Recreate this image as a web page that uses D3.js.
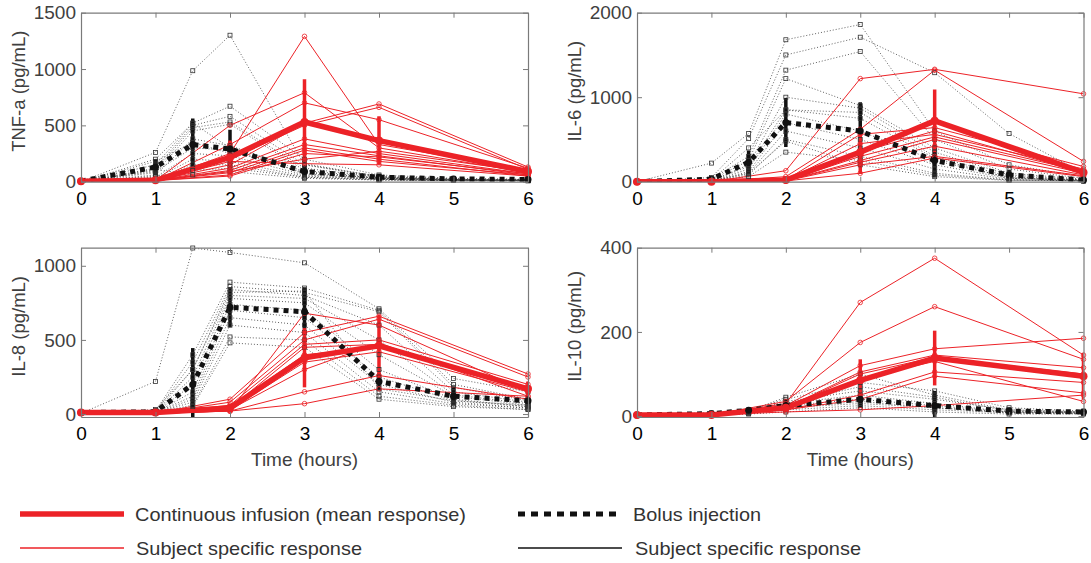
<!DOCTYPE html>
<html>
<head>
<meta charset="utf-8">
<script src="https://cdn.jsdelivr.net/npm/d3@7"></script>
<style>
    body { margin: 0; background: #fff; }
    svg { font-family: "Liberation Sans", Arial, Helvetica, sans-serif; }
</style>
</head>
<body>
<div id="chart"></div>
<script>
// time points (hours)
const timesInfusion = [0, 1, 2, 3, 4, 6];
const timesBolus = [0, 1, 1.5, 2, 3, 4, 5, 6];
const xTicks = [0, 1, 2, 3, 4, 5, 6];

// TNF-a
const tnfInfMean = [5, 12, 215, 530, 365, 90];
const tnfInfSd = [0, 0, 150, 380, 215, 35];
const tnfBolMean = [5, 130, 330, 290, 90, 40, 25, 20];
const tnfBolSd = [0, 70, 230, 170, 55, 25, 10, 10];
const tnfInfSubjects = [
    [0, 10, 250, 1290, 330, 100],
    [0, 10, 500, 790, 300, 80],
    [0, 10, 330, 700, 550, 120],
    [0, 10, 150, 520, 690, 130],
    [0, 10, 200, 500, 660, 110],
    [0, 10, 120, 380, 250, 70],
    [0, 10, 100, 330, 230, 60],
    [0, 10, 80, 300, 200, 50],
    [0, 10, 60, 280, 180, 60],
    [0, 10, 50, 250, 220, 70],
    [0, 10, 180, 160, 150, 50],
    [0, 10, 90, 200, 270, 90]
];
const tnfBolSubjects = [
    [0, 260, 985, 1300, 150, 40, 20, 15],
    [0, 150, 520, 670, 200, 60, 30, 20],
    [0, 120, 500, 580, 150, 50, 25, 20],
    [0, 100, 480, 530, 120, 40, 20, 15],
    [0, 80, 450, 510, 100, 35, 20, 15],
    [0, 60, 380, 320, 90, 30, 20, 15],
    [0, 90, 300, 280, 80, 30, 15, 12],
    [0, 40, 250, 230, 60, 25, 15, 10],
    [0, 30, 200, 180, 50, 20, 12, 10],
    [0, 20, 150, 150, 40, 20, 10, 10],
    [0, 50, 100, 120, 40, 15, 10, 8],
    [0, 200, 520, 300, 70, 30, 15, 10],
    [0, 110, 60, 90, 30, 15, 10, 8],
    [0, 180, 350, 250, 160, 45, 20, 15]
];

// IL-6
const il6InfMean = [0, 0, 20, 350, 720, 110];
const il6InfSd = [0, 0, 20, 260, 370, 60];
const il6BolMean = [0, 30, 230, 700, 600, 250, 80, 20];
const il6BolSd = [0, 20, 140, 290, 340, 200, 60, 15];
const il6InfSubjects = [
    [0, 0, 130, 1220, 1330, 1040],
    [0, 0, 60, 620, 1320, 240],
    [0, 0, 20, 560, 640, 180],
    [0, 0, 20, 450, 560, 150],
    [0, 0, 10, 300, 530, 120],
    [0, 0, 10, 250, 500, 100],
    [0, 0, 10, 230, 420, 80],
    [0, 0, 10, 200, 300, 70],
    [0, 0, 10, 100, 280, 60],
    [0, 0, 20, 350, 600, 110]
];
const il6BolSubjects = [
    [0, 220, 570, 1680, 1860, 600, 200, 60],
    [0, 50, 510, 1500, 1710, 1290, 570, 100],
    [0, 30, 300, 1320, 1540, 500, 150, 40],
    [0, 20, 250, 1220, 900, 400, 100, 30],
    [0, 10, 200, 1000, 870, 350, 80, 20],
    [0, 10, 180, 850, 820, 300, 60, 20],
    [0, 5, 150, 800, 600, 250, 50, 15],
    [0, 5, 120, 700, 500, 200, 40, 15],
    [0, 5, 100, 600, 400, 150, 30, 10],
    [0, 5, 80, 500, 300, 100, 20, 10],
    [0, 5, 60, 350, 250, 80, 20, 10],
    [0, 10, 100, 480, 200, 60, 15, 10],
    [0, 20, 400, 850, 750, 280, 40, 20]
];

// IL-8
const il8InfMean = [10, 10, 40, 380, 460, 170];
const il8InfSd = [0, 0, 30, 200, 210, 50];
const il8BolMean = [10, 15, 200, 720, 690, 220, 120, 90];
const il8BolSd = [0, 10, 245, 135, 165, 60, 60, 40];
const il8InfSubjects = [
    [5, 5, 20, 680, 600, 150],
    [5, 5, 100, 550, 660, 270],
    [5, 5, 80, 500, 640, 250],
    [5, 5, 60, 470, 500, 200],
    [5, 5, 40, 450, 470, 180],
    [5, 5, 50, 400, 450, 170],
    [5, 5, 30, 350, 420, 150],
    [5, 5, 30, 300, 480, 120],
    [5, 5, 20, 150, 260, 100],
    [5, 5, 20, 70, 170, 120]
];
const il8BolSubjects = [
    [5, 220, 1120, 1090, 1020, 710, 240, 150],
    [5, 20, 400, 890, 850, 700, 200, 100],
    [5, 15, 350, 860, 820, 690, 180, 90],
    [5, 10, 300, 840, 800, 600, 150, 80],
    [5, 10, 250, 800, 780, 500, 130, 70],
    [5, 10, 200, 780, 750, 400, 120, 60],
    [5, 10, 150, 740, 700, 300, 100, 50],
    [5, 10, 120, 700, 650, 250, 90, 50],
    [5, 10, 100, 650, 600, 200, 80, 40],
    [5, 10, 80, 600, 550, 150, 70, 40],
    [5, 10, 60, 520, 500, 120, 60, 30],
    [5, 10, 50, 480, 450, 100, 50, 30],
    [5, 30, 300, 820, 830, 170, 90, 60]
];

// IL-10
const il10InfMean = [3, 3, 20, 85, 138, 95];
const il10InfSd = [0, 0, 10, 50, 65, 55];
const il10BolMean = [3, 6, 14, 25, 40, 25, 12, 10];
const il10BolSd = [0, 3, 5, 15, 20, 35, 6, 5];
const il10InfSubjects = [
    [3, 3, 30, 270, 375, 145],
    [3, 3, 35, 175, 260, 135],
    [3, 3, 25, 120, 160, 185],
    [3, 3, 20, 105, 145, 115],
    [3, 3, 20, 100, 140, 100],
    [3, 3, 15, 50, 105, 80],
    [3, 3, 15, 40, 95, 55],
    [3, 3, 10, 15, 25, 50],
    [3, 3, 20, 90, 130, 35]
];
const il10BolSubjects = [
    [3, 5, 12, 45, 100, 50, 15, 10],
    [3, 8, 15, 40, 80, 60, 20, 12],
    [3, 5, 10, 35, 60, 40, 15, 10],
    [3, 4, 10, 30, 50, 30, 10, 8],
    [3, 4, 8, 25, 40, 25, 10, 8],
    [3, 4, 8, 20, 30, 20, 8, 6],
    [3, 3, 6, 15, 25, 15, 8, 6],
    [3, 3, 5, 10, 20, 10, 5, 5],
    [3, 6, 12, 30, 70, 45, 12, 10],
    [3, 5, 10, 20, 35, 20, 10, 8]
];

const legendLabels = ["Continuous infusion (mean response)", "Bolus injection",
    "Subject specific response", "Subject specific response"];

const RED = "#ec2227";
const W = 1091, H = 563;

// panel layout
const panels = [
    { label: "TNF-a (pg/mL)", left: 81, right: 528, top: 12.7, bottom: 181.7, yDomain: [0, 1500], yTicks: [0, 500, 1000, 1500], xTitle: false,
      infMean: tnfInfMean, infSd: tnfInfSd, bolMean: tnfBolMean, bolSd: tnfBolSd, infSubj: tnfInfSubjects, bolSubj: tnfBolSubjects },
    { label: "IL-6 (pg/mL)", left: 637, right: 1083.5, top: 12.7, bottom: 181.7, yDomain: [0, 2000], yTicks: [0, 1000, 2000], xTitle: false,
      infMean: il6InfMean, infSd: il6InfSd, bolMean: il6BolMean, bolSd: il6BolSd, infSubj: il6InfSubjects, bolSubj: il6BolSubjects },
    { label: "IL-8 (pg/mL)", left: 81, right: 528, top: 247.7, bottom: 417, yDomain: [-20, 1122], yTicks: [0, 500, 1000], xTitle: true,
      infMean: il8InfMean, infSd: il8InfSd, bolMean: il8BolMean, bolSd: il8BolSd, infSubj: il8InfSubjects, bolSubj: il8BolSubjects },
    { label: "IL-10 (pg/mL)", left: 637, right: 1083.5, top: 247.7, bottom: 417, yDomain: [-2, 400], yTicks: [0, 200, 400], xTitle: true,
      infMean: il10InfMean, infSd: il10InfSd, bolMean: il10BolMean, bolSd: il10BolSd, infSubj: il10InfSubjects, bolSubj: il10BolSubjects }
];

const svg = d3.select("#chart").append("svg")
    .attr("width", W)
    .attr("height", H);

panels.forEach((p, i) => {
    const x = d3.scaleLinear().domain([0, 6]).range([p.left, p.right]);
    const y = d3.scaleLinear().domain(p.yDomain).range([p.bottom, p.top]);
    const g = svg.append("g");

    g.append("clipPath").attr("id", "clip" + i)
        .append("rect")
        .attr("x", p.left).attr("y", p.top)
        .attr("width", p.right - p.left).attr("height", p.bottom - p.top);

    const plot = g.append("g").attr("clip-path", "url(#clip" + i + ")");
    const marks = g.append("g");
    const line = d3.line().x(d => x(d[0])).y(d => y(d[1]));

    // bolus subjects - dotted black
    p.bolSubj.forEach(s => {
        const pts = timesBolus.map((t, k) => [t, s[k]]);
        plot.append("path").datum(pts)
            .attr("d", line)
            .attr("fill", "none")
            .attr("stroke", "#3a3a3a")
            .attr("stroke-width", 0.8)
            .attr("stroke-dasharray", "1,2");
        marks.selectAll(null).data(pts.slice(1)).enter().append("rect")
            .attr("x", d => x(d[0]) - 2).attr("y", d => y(d[1]) - 2)
            .attr("width", 4).attr("height", 4)
            .attr("fill", "none").attr("stroke", "#333").attr("stroke-width", 0.8);
    });

    // infusion subjects - thin red
    p.infSubj.forEach(s => {
        const pts = timesInfusion.map((t, k) => [t, s[k]]);
        plot.append("path").datum(pts)
            .attr("d", line)
            .attr("fill", "none")
            .attr("stroke", RED)
            .attr("stroke-width", 1);
        marks.selectAll(null).data(pts.slice(2)).enter().append("circle")
            .attr("cx", d => x(d[0])).attr("cy", d => y(d[1]))
            .attr("r", 2.3)
            .attr("fill", "none").attr("stroke", RED).attr("stroke-width", 0.8);
    });

    // bolus mean + error bars
    const bolPts = timesBolus.map((t, k) => [t, p.bolMean[k], p.bolSd[k]]);
    plot.selectAll(null).data(bolPts.filter(d => d[2] > 0)).enter().append("line")
        .attr("x1", d => x(d[0])).attr("x2", d => x(d[0]))
        .attr("y1", d => y(d[1] - d[2])).attr("y2", d => y(d[1] + d[2]))
        .attr("stroke", "#111").attr("stroke-width", 3.5);
    plot.append("path").datum(bolPts)
        .attr("d", line)
        .attr("fill", "none")
        .attr("stroke", "#111")
        .attr("stroke-width", 5)
        .attr("stroke-dasharray", "5,5");
    marks.selectAll(null).data(bolPts).enter().append("circle")
        .attr("cx", d => x(d[0])).attr("cy", d => y(d[1]))
        .attr("r", 3.5).attr("fill", "#111");

    // infusion mean + error bars
    const infPts = timesInfusion.map((t, k) => [t, p.infMean[k], p.infSd[k]]);
    plot.selectAll(null).data(infPts.filter(d => d[2] > 0)).enter().append("line")
        .attr("x1", d => x(d[0])).attr("x2", d => x(d[0]))
        .attr("y1", d => y(d[1] - d[2])).attr("y2", d => y(d[1] + d[2]))
        .attr("stroke", RED).attr("stroke-width", 3.5);
    plot.append("path").datum(infPts)
        .attr("d", line)
        .attr("fill", "none")
        .attr("stroke", RED)
        .attr("stroke-width", 5.5)
        .attr("stroke-linejoin", "round");
    marks.selectAll(null).data(infPts).enter().append("circle")
        .attr("cx", d => x(d[0])).attr("cy", d => y(d[1]))
        .attr("r", 4).attr("fill", RED);

    // AXES (box with inward ticks)
    const axisColor = "#7a7a7a";
    const bottomAx = g.append("g").attr("transform", "translate(0," + p.bottom + ")")
        .call(d3.axisBottom(x).tickValues(xTicks).tickSizeInner(-5).tickSizeOuter(0).tickPadding(9.5).tickFormat(d3.format("d")));
    const topAx = g.append("g").attr("transform", "translate(0," + p.top + ")")
        .call(d3.axisTop(x).tickValues(xTicks).tickSizeInner(-5).tickSizeOuter(0).tickFormat(""));
    const leftAx = g.append("g").attr("transform", "translate(" + p.left + ",0)")
        .call(d3.axisLeft(y).tickValues(p.yTicks).tickSizeInner(-5).tickSizeOuter(0).tickPadding(5).tickFormat(d3.format("d")));
    const rightAx = g.append("g").attr("transform", "translate(" + p.right + ",0)")
        .call(d3.axisRight(y).tickValues(p.yTicks).tickSizeInner(-5).tickSizeOuter(0).tickFormat(""));

    [bottomAx, topAx, leftAx, rightAx].forEach(a => {
        a.select(".domain").attr("stroke", axisColor).attr("stroke-width", 1.2);
        a.selectAll(".tick line").attr("stroke", axisColor);
    });
    bottomAx.selectAll("text").attr("font-size", 19).attr("fill", "#000").attr("font-family", null);
    leftAx.selectAll("text").attr("font-size", 19).attr("fill", "#404040").attr("font-family", null);

    // y label
    g.append("text")
        .attr("transform", "translate(" + (p.left - 56) + "," + ((p.top + p.bottom) / 2 - 6) + ") rotate(-90)")
        .attr("text-anchor", "middle")
        .attr("font-size", 18.5)
        .attr("fill", "#404040")
        .text(p.label);

    if (p.xTitle) {
        g.append("text")
            .attr("x", (p.left + p.right) / 2)
            .attr("y", p.bottom + 49)
            .attr("text-anchor", "middle")
            .attr("font-size", 19)
            .attr("fill", "#404040")
            .text("Time (hours)");
    }
});

// LEGEND
const legend = svg.append("g").attr("class", "legend");
const legendItems = [
    { x: 20, y: 514, color: RED, width: 5.5, dash: null, textX: 135, len: 331 },
    { x: 518, y: 514, color: "#111", width: 5, dash: "7,6", textX: 633, len: 128 },
    { x: 20, y: 548, color: RED, width: 1.3, dash: null, textX: 136, len: 226 },
    { x: 518, y: 548, color: "#111", width: 1.3, dash: null, textX: 635, len: 226 }
];
legendItems.forEach((d, i) => {
    legend.append("line")
        .attr("x1", d.x).attr("x2", d.x + 104)
        .attr("y1", d.y).attr("y2", d.y)
        .attr("stroke", d.color)
        .attr("stroke-width", d.width)
        .attr("stroke-dasharray", d.dash);
    legend.append("text")
        .attr("x", d.textX).attr("y", d.y + 6.5)
        .attr("font-size", 18.5)
        .attr("fill", "#333")
        .attr("textLength", d.len)
        .attr("lengthAdjust", "spacingAndGlyphs")
        .text(legendLabels[i]);
});
</script>
</body>
</html>
